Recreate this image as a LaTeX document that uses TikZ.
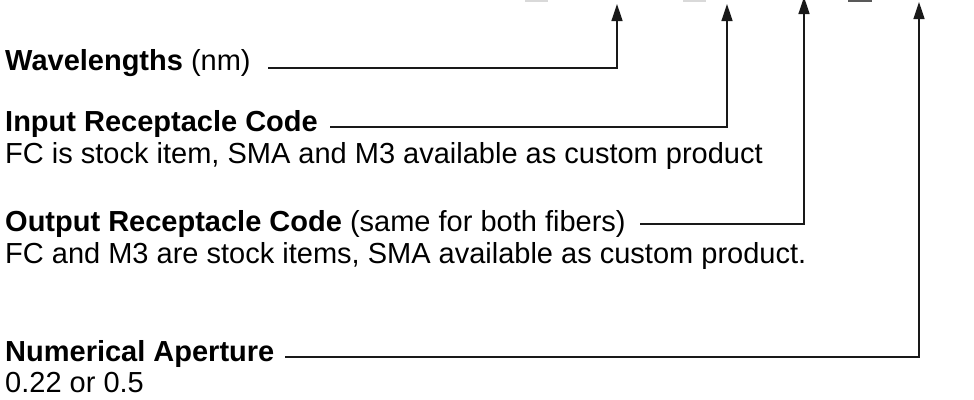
\documentclass[tikz,border=0pt]{standalone}
\usepackage{fontspec}
\setmainfont{Liberation Sans}
\usetikzlibrary{arrows.meta}
\begin{document}
\begin{tikzpicture}[x=1pt,y=-1pt,
  lbl/.style={anchor=base west,inner sep=0pt,font=\fontsize{29}{34}\selectfont},
  leader/.style={line width=1.3pt,draw=black!90},
  pointer/.style={leader,-{Triangle[width=11pt,length=17pt]}},
  blank/.style={fill=#1,draw=none}]
\useasboundingbox (0,0) rectangle (974,399);

% stubs of the code blanks along the top edge
\fill[blank=black!15] (525,0) rectangle (548,1.6);
\fill[blank=black!15] (683,0) rectangle (706,1.6);
\fill[blank=black!65] (848,0) rectangle (872,1.6);

% labels
\node[lbl] (wl)  at (5,70)  {\textbf{Wavelengths} (nm)};
\node[lbl] (irc) at (5,131) {\textbf{Input Receptacle Code}};
\node[lbl] (ird) at (5,163) {FC is stock item, SMA and M3 available as custom product};
\node[lbl] (orc) at (5,231) {\textbf{Output Receptacle Code} (same for both fibers)};
\node[lbl] (ord) at (5,263) {FC and M3 are stock items, SMA available as custom product.};
\node[lbl] (na)  at (5,361) {\textbf{Numerical Aperture}};
\node[lbl] (nad) at (5,392) {0.22 or 0.5};

% leader starts, corners and arrow tips
\coordinate (wlS) at (268,68);  \coordinate (wlC) at (617,68);  \coordinate (wlT) at (617,4);
\coordinate (ircS) at (330,127); \coordinate (ircC) at (727,127); \coordinate (ircT) at (727,4);
\coordinate (orcS) at (640,224); \coordinate (orcC) at (804,224); \coordinate (orcT) at (804,-3);
\coordinate (naS) at (285,357);  \coordinate (naC) at (919,357);  \coordinate (naT) at (919,2);

% leaders
\draw[pointer] (wlS) -- (wlC) -- (wlT);
\draw[pointer] (ircS) -- (ircC) -- (ircT);
\draw[pointer] (orcS) -- (orcC) -- (orcT);
\draw[pointer] (naS) -- (naC) -- (naT);
\end{tikzpicture}
\end{document}
